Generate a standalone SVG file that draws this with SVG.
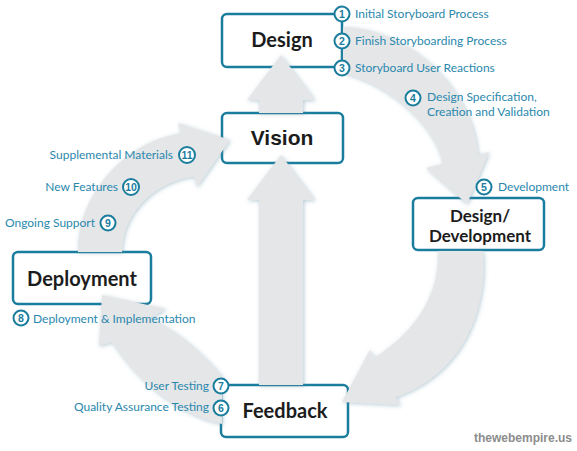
<svg xmlns="http://www.w3.org/2000/svg" width="577" height="451" viewBox="0 0 577 451">
<style>
.box{fill:#fff;stroke:#1b7d9e;stroke-width:2.5}
.nt{font-family:Lato,"Liberation Sans",sans-serif;font-weight:bold;fill:#1c1c1c;text-anchor:middle}
.arr{fill:#e5e6e7;filter:url(#sh)}
.lbl{font-family:Lato,"Liberation Sans",sans-serif;font-size:12px;fill:#2a88ad}
.num{fill:#fff;stroke:#1b7d9e;stroke-width:2}
.nn{font-family:"Liberation Sans",sans-serif;font-weight:bold;font-size:10.5px;fill:#1b7d9e;text-anchor:middle}
.wm{font-family:"Liberation Sans",sans-serif;font-weight:bold;font-size:12px;fill:#8c8c8c}
</style>
<defs>
<filter id="sh" x="-20%" y="-20%" width="140%" height="140%">
<feDropShadow dx="1" dy="1" stdDeviation="2" flood-color="#5d8ea3" flood-opacity="0.45"/>
</filter>
</defs>
<rect width="577" height="451" fill="#fff"/>
<g id="design"><rect class="box" x="222" y="14" width="120" height="53" rx="5"/><text class="nt" x="282" y="47" font-size="20">Design</text></g>
<g id="vision"><rect class="box" x="222" y="113" width="121" height="50" rx="5"/><text class="nt" x="282" y="145" font-size="21" style="font-family:'Liberation Sans',sans-serif">Vision</text></g>
<g id="design-development"><rect class="box" x="413" y="198" width="131" height="52" rx="5"/><text class="nt" x="480" y="222" font-size="17">Design/</text><text class="nt" x="480" y="242" font-size="17">Development</text></g>
<g id="deployment"><rect class="box" x="13" y="252" width="138" height="52" rx="5"/><text class="nt" x="82" y="286" font-size="20">Deployment</text></g>
<g id="feedback"><rect class="box" x="221" y="385" width="127" height="52" rx="5"/><text class="nt" x="285" y="418" font-size="20">Feedback</text></g>
<g id="connectors">
<path class="arr" d="M259,385 L259,200 L247,200 L281,155 L315,200 L303,200 L303,385 Z"/>
<path class="arr" d="M259,113 L259,100 L247,100 L281,55 L315,100 L303,100 L303,113 Z"/>
<path class="arr" d="M343,27 C415,29 475,95 478,155 L489,152 L467,204 L426,168 L443,164 C435,125 390,85 343,73 Z"/>
<path class="arr" d="M438,251 L483,251 C488,315 460,375 395.7,397.1 L400,405 L342,402 L370,350 L374.3,357.9 C410,335 440,300 438,251 Z"/>
<path class="arr" d="M222,376 C200,350 172,328 150,318 L166,309 L102,295 L99,346 L112,342 C140,385 180,415 222,424 Z"/>
<path class="arr" d="M78,252 C78,190 130,140 181,133.5 L178,123 L230,140 L197,187 L194,176.5 C160,180 122,210 122,252 Z"/>
</g>
<g id="steps">
<circle class="num" cx="342" cy="14" r="7.5"/><text class="nn" x="342" y="17.8">1</text><text class="lbl" x="355" y="18">Initial Storyboard Process</text>
<circle class="num" cx="342" cy="41" r="7.5"/><text class="nn" x="342" y="44.8">2</text><text class="lbl" x="355" y="45">Finish Storyboarding Process</text>
<circle class="num" cx="342" cy="68" r="7.5"/><text class="nn" x="342" y="71.8">3</text><text class="lbl" x="355" y="72">Storyboard User Reactions</text>
<circle class="num" cx="413" cy="98" r="7.5"/><text class="nn" x="413" y="101.8">4</text><text class="lbl" x="427" y="101">Design Specification,</text><text class="lbl" x="427" y="115.5">Creation and Validation</text>
<circle class="num" cx="484" cy="187" r="7.5"/><text class="nn" x="484" y="190.8">5</text><text class="lbl" x="498" y="191">Development</text>
<circle class="num" cx="221" cy="408" r="7.5"/><text class="nn" x="221" y="411.8">6</text><text class="lbl" x="209" y="411" text-anchor="end">Quality Assurance Testing</text>
<circle class="num" cx="221" cy="386" r="7.5"/><text class="nn" x="221" y="389.8">7</text><text class="lbl" x="209" y="390" text-anchor="end">User Testing</text>
<circle class="num" cx="21" cy="318" r="7.5"/><text class="nn" x="21" y="321.8">8</text><text class="lbl" x="33" y="323">Deployment &amp; Implementation</text>
<circle class="num" cx="108" cy="223" r="7.5"/><text class="nn" x="108" y="226.8">9</text><text class="lbl" x="95" y="227" text-anchor="end">Ongoing Support</text>
<circle class="num" cx="131" cy="187" r="8"/><text class="nn" x="131" y="190.5" font-size="9">10</text><text class="lbl" x="118" y="191" text-anchor="end">New Features</text>
<circle class="num" cx="187" cy="155" r="8"/><text class="nn" x="187" y="158.5" font-size="9">11</text><text class="lbl" x="173" y="159" text-anchor="end">Supplemental Materials</text>
</g>
<text class="wm" x="572" y="442" text-anchor="end">thewebempire.us</text>
</svg>
